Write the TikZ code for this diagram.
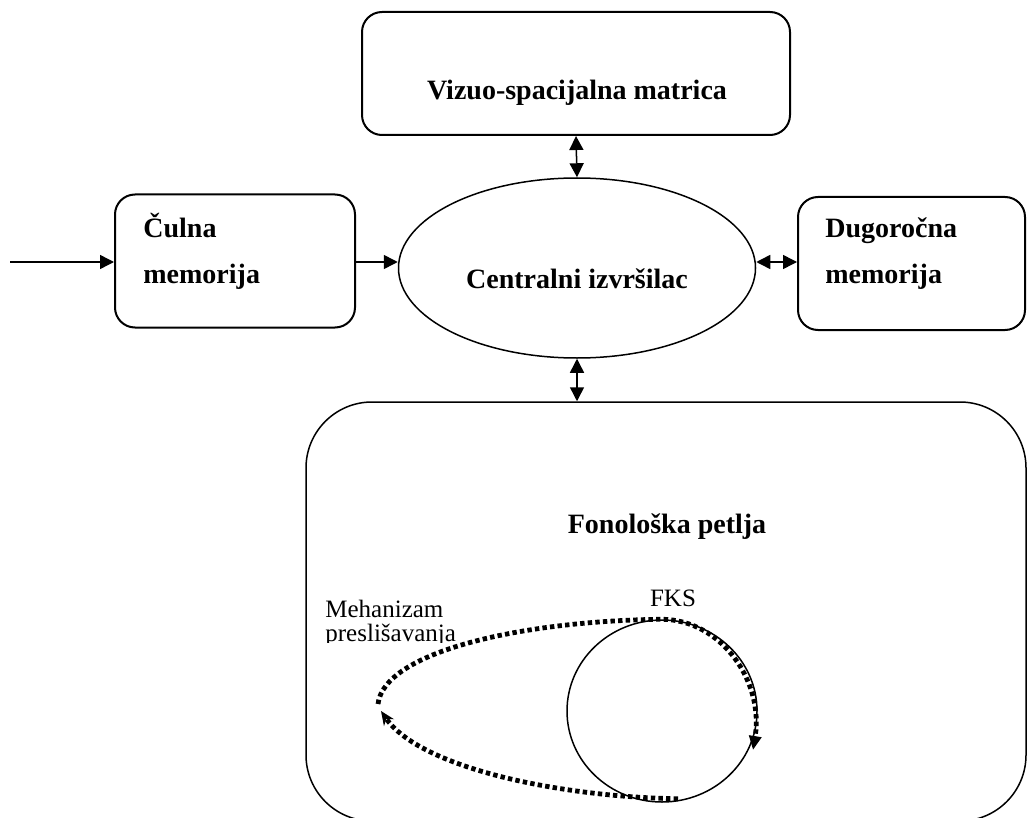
\documentclass[tikz,border=0pt]{standalone}
\usepackage{fontspec}
\setmainfont{Liberation Serif}
\usetikzlibrary{arrows.meta, shapes.geometric}
\tikzstyle{arrow} = [line width=0.75pt, -{Triangle[length=7pt,width=7pt]}]
\tikzstyle{dblarrow} = [line width=0.75pt, {Triangle[length=7pt,width=7pt]}-{Triangle[length=7pt,width=7pt]}]
\tikzstyle{terminal} = [rectangle, rounded corners=10pt, draw=black, line width=1pt, inner sep=0pt]
\tikzstyle{container} = [rectangle, rounded corners=33pt, draw=black, line width=0.75pt, inner sep=0pt]
\tikzstyle{executive} = [ellipse, draw=black, line width=0.75pt, inner sep=0pt]
\tikzstyle{loopline} = [line width=2.4pt, dash pattern=on 2.2pt off 1.6pt]
\tikzset{
	boldtext/.style = {font=\fontsize{14}{16}\selectfont\bfseries, inner sep=0pt},
	plaintext/.style = {font=\fontsize{12.5}{14}\selectfont, inner sep=0pt}
}
\begin{document}
\begin{tikzpicture}[x=0.5pt, y=-0.5pt]
\clip (0,0) rectangle (1027,818);
%----------------------------------------------------------------------------
% Placement of boxes
\node (vizuo) [terminal, minimum width=214pt, minimum height=61.5pt] at (576,73.5) {};
\node (culna) [terminal, minimum width=120pt, minimum height=66.5pt] at (235,261) {};
\node (dugo) [terminal, minimum width=113.5pt, minimum height=66.5pt] at (911.5,263.5) {};
\node (central) [executive, minimum width=178.5pt, minimum height=90pt] at (577,268) {};
\node (fonol) [container, minimum width=360pt, minimum height=209.5pt] at (666,611.5) {};
\node (fks) [executive, minimum width=95pt, minimum height=91pt] at (662,711) {};

%----------------------------------------------------------------------------
% Texts
\node (vizuoText) [boldtext, anchor=base] at (577,100) {Vizuo-spacijalna matrica};
\node (culnaText1) [boldtext, anchor=base west] at (143,237) {Čulna};
\node (culnaText2) [boldtext, anchor=base west] at (143,283) {memorija};
\node (dugoText1) [boldtext, anchor=base west] at (825,237) {Dugoročna};
\node (dugoText2) [boldtext, anchor=base west] at (825,283) {memorija};
\node (centralText) [boldtext] at (577,279) {Centralni izvršilac};
\node (fonolText) [boldtext] at (667,527) {Fonološka petlja};
\node (fksText) [plaintext, anchor=base] at (673,606) {FKS};
\node (mehText1) [plaintext, anchor=base west] at (325,617) {Mehanizam};
\begin{scope}
\clip (300,620) rectangle (520,642);
\node (mehText2) [plaintext, anchor=base west] at (325,641) {preslišavanja};
\end{scope}

%----------------------------------------------------------------------------
% Draw lines
\coordinate (input) at (10,262);
\draw [arrow] (input) -- (input -| culna.west);
\draw [arrow] (culna.east |- input) -- (input -| central.west);
\draw [dblarrow] (central.east |- input) -- (input -| dugo.west);
\draw [dblarrow] (central.north) -- (vizuo.south);
\draw [dblarrow] (central.south) -- (central.south |- fonol.north);

%----------------------------------------------------------------------------
% Rehearsal loop
\coordinate (turn) at (378,704);
\coordinate (fksEnd) at (753,750);
\coordinate (turnEnd) at (381,711);
\draw [loopline, -{Triangle[length=7pt,width=6pt]}] (turn) .. controls (384,652) and (520,621) .. (fks.north)
	.. controls (722,620) and (764,682) .. (fksEnd);
\draw [loopline, -{Stealth[length=7pt,width=6pt]}] ([xshift=8pt,yshift=2pt]fks.south) .. controls (560,797) and (420,768) .. (turnEnd);

\end{tikzpicture}
\end{document}
